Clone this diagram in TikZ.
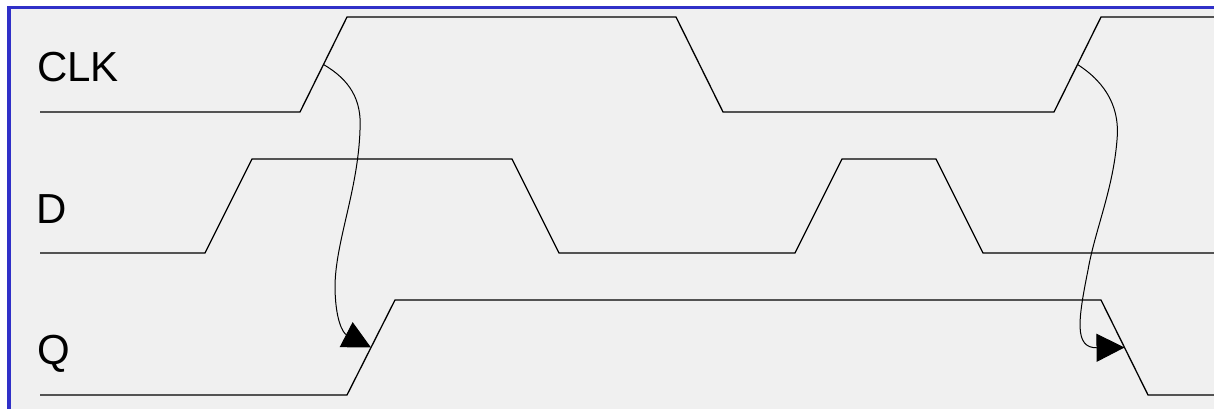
\documentclass[tikz,border=0pt]{standalone}
\usepackage{fontspec}
\setmainfont{Liberation Sans}
\usetikzlibrary{arrows.meta}
\definecolor{frameblue}{HTML}{3030C8}
\definecolor{bggray}{HTML}{F0F0F0}
\tikzset{
  wave/.style={draw=black, line width=1.3pt, line join=miter},
  lbl/.style={anchor=base west, inner sep=0pt, font=\fontsize{42}{50}\selectfont},
  causal/.style={draw=black, line width=1pt, -{Triangle[length=28pt,width=28pt]}}
}
\begin{document}
\begin{tikzpicture}[x=1pt,y=-1pt]
\useasboundingbox (0,0) rectangle (1214,409);
\clip (0,0) rectangle (1214,409);
\fill[white] (0,0) rectangle (1214,409);
\draw[frameblue, line width=3.5pt, fill=bggray] (9,7.5) rectangle (1240,440);
% labels
\node[lbl] (lclk) at (37,82) {CLK};
\node[lbl] (ld) at (36,223.5) {D};
\node[lbl] (lq) at (37,364.5) {Q};
% CLK waveform
\draw[wave] (40,112) -- (300,112) -- (347,17) -- (676,17) -- (723,112) -- (1054,112) -- (1101,17) -- (1220,17);
% D waveform
\draw[wave] (40,253) -- (205,253) -- (252,159) -- (512,159) -- (559,253) -- (795,253) -- (842,159) -- (936,159) -- (983,253) -- (1220,253);
% Q waveform
\draw[wave] (40,395) -- (347,395) -- (395,300) -- (1101,300) -- (1148,395) -- (1220,395);
% edge midpoints
\coordinate (clkr1) at (323.5,64.5);
\coordinate (clkr2) at (1077.5,64.5);
\coordinate (qr) at (371,347.5);
\coordinate (qf) at (1124.5,347.5);
% causal arrows
\draw[causal] (clkr1) .. controls (350,80) and (362,100) .. (360,130)
  .. controls (358,190) and (336,240) .. (335,285)
  .. controls (335,320) and (343,333) .. (qr);
\draw[causal] (clkr2) .. controls (1108,84) and (1120,110) .. (1117,140)
  .. controls (1113,190) and (1095,230) .. (1088,270)
  .. controls (1078,320) and (1074,348) .. (qf);
\end{tikzpicture}
\end{document}
